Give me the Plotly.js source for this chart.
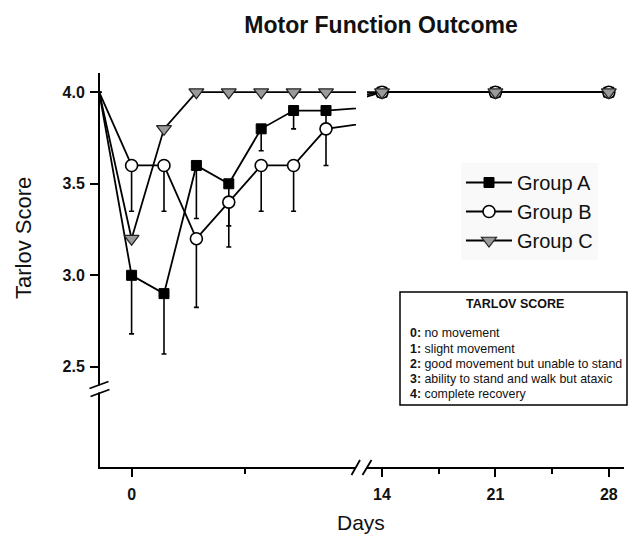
<!DOCTYPE html>
<html>
<head>
<meta charset="utf-8">
<script src="https://cdn.plot.ly/plotly-3.0.1.min.js"></script>
<style>html,body{margin:0;padding:0;background:#fff;}#chart{width:628px;height:536px;}</style>
</head>
<body>
<div id="chart"></div>
<script>
// ---- data ----
const days = [-1, 0, 1, 2, 3, 4, 5, 6, 14, 21, 28];
const groupA = [4.0, 3.0, 2.9, 3.6, 3.5, 3.8, 3.9, 3.9, 4.0, 4.0, 4.0];
const groupB = [4.0, 3.6, 3.6, 3.2, 3.4, 3.6, 3.6, 3.8, 4.0, 4.0, 4.0];
const groupC = [4.0, 3.2, 3.8, 4.0, 4.0, 4.0, 4.0, 4.0, 4.0, 4.0, 4.0];
const errA = [0, 0.32, 0.33, 0.29, 0.23, 0.12, 0.1, 0.1, 0, 0, 0];
const errB = [0, 0.25, 0.25, 0.375, 0.245, 0.25, 0.25, 0.2, 0, 0, 0];
const errC = [0, 0, 0, 0, 0, 0, 0, 0, 0, 0, 0];
const groupNames = ['Group A', 'Group B', 'Group C'];
const yTickVals = [2.5, 3.0, 3.5, 4.0];
const yTickText = ['2.5', '3.0', '3.5', '4.0'];
const xTickVals1 = [0];
const xTickText1 = ['0'];
const xTickVals2 = [14, 21, 28];
const xTickText2 = ['14', '21', '28'];
const tarlovLines = [
  ['0:', 'no movement'],
  ['1:', 'slight movement'],
  ['2:', 'good movement but unable to stand'],
  ['3:', 'ability to stand and walk but ataxic'],
  ['4:', 'complete recovery']
];

// ---- styling ----
const FONT = 'Liberation Sans, Arial, sans-serif';
const INK = '#111111';
const markers = [
  {symbol: 'square', size: 10, color: '#000000', line: {color: '#000000', width: 1}},
  {symbol: 'circle', size: 12, color: '#ffffff', line: {color: '#000000', width: 1.6}},
  {symbol: 'triangle-down', size: 13, color: '#9a9a9a', line: {color: '#222222', width: 1.2}}
];
const series = [groupA, groupB, groupC];
const errs = [errA, errB, errC];
const LEFT_MAX = 7;

// pixel helpers for layout decorations
const L = 100, R = 624, T = 73, B = 467;
const px = x => (x - L) / (R - L);
const py = y => (B - y) / (B - T);

const traces = [];
series.forEach((vals, i) => {
  const zeros = vals.map(() => 0);
  traces.push({
    x: days, y: vals, xaxis: 'x', yaxis: 'y', type: 'scatter', mode: 'lines',
    line: {color: '#000', width: 1.8}, showlegend: false, hoverinfo: 'skip'
  });
  const idx = days.map((d, k) => k).filter(k => days[k] < LEFT_MAX);
  traces.push({
    x: idx.map(k => days[k]), y: idx.map(k => vals[k]), xaxis: 'x', yaxis: 'y',
    type: 'scatter', mode: 'markers', marker: markers[i], cliponaxis: false,
    error_y: {type: 'data', symmetric: false, array: idx.map(() => 0),
      arrayminus: idx.map(k => errs[i][k]), color: '#000', thickness: 1.6, width: 2.5},
    showlegend: false
  });
  traces.push({
    x: days, y: vals, xaxis: 'x2', yaxis: 'y', type: 'scatter', mode: 'lines+markers',
    name: groupNames[i], line: {color: '#000', width: 1.8}, marker: markers[i],
    error_y: {type: 'data', symmetric: false, array: zeros, arrayminus: errs[i],
      color: '#000', thickness: 1.6, width: 2.5},
    showlegend: true
  });
});

const tickFont = {family: FONT, size: 16, color: INK, weight: 'bold'};

const annotations = [
  {text: 'Days', xref: 'paper', yref: 'paper', x: px(361), y: py(522), xanchor: 'center', yanchor: 'middle',
   showarrow: false, font: {family: FONT, size: 21, color: INK}},
  {text: 'Tarlov Score', xref: 'paper', yref: 'paper', x: px(23), y: py(238), xanchor: 'center', yanchor: 'middle',
   textangle: -90, showarrow: false, font: {family: FONT, size: 22, color: INK}},
  {text: '<b>TARLOV SCORE</b>', xref: 'paper', yref: 'paper', x: px(515), y: py(304), xanchor: 'center', yanchor: 'middle',
   showarrow: false, font: {family: FONT, size: 12.5, color: INK}}
];
const lineYs = [333, 349, 364, 379, 394];
tarlovLines.forEach((ln, k) => {
  annotations.push({text: '<b>' + ln[0] + '</b> ' + ln[1], xref: 'paper', yref: 'paper',
    x: px(408), y: py(lineYs[k]), xanchor: 'left', yanchor: 'middle', showarrow: false,
    font: {family: FONT, size: 12.4, color: INK}});
});

const shapes = [
  {type: 'rect', xref: 'paper', yref: 'paper', x0: px(400), x1: px(627), y0: py(405), y1: py(292),
   line: {color: '#000', width: 1.5}, fillcolor: 'rgba(0,0,0,0)'},
  {type: 'line', xref: 'paper', yref: 'paper', x0: px(351.5), y0: py(475), x1: px(360), y1: py(460), line: {color: '#000', width: 1.8}},
  {type: 'line', xref: 'paper', yref: 'paper', x0: px(362.5), y0: py(475), x1: px(371.5), y1: py(460), line: {color: '#000', width: 1.8}},
  {type: 'line', xref: 'paper', yref: 'paper', x0: px(100), y0: py(385.5), x1: px(100), y1: py(392.5), line: {color: '#fff', width: 4}},
  {type: 'line', xref: 'paper', yref: 'paper', x0: px(89.5), y0: py(388.5), x1: px(108.5), y1: py(381.5), line: {color: '#000', width: 1.8}},
  {type: 'line', xref: 'paper', yref: 'paper', x0: px(90.5), y0: py(396.5), x1: px(109.5), y1: py(389.5), line: {color: '#000', width: 1.8}}
];

const layout = {
  width: 628, height: 536,
  margin: {l: L, r: 628 - R, t: T, b: 536 - B, pad: 0},
  paper_bgcolor: '#ffffff', plot_bgcolor: '#ffffff',
  font: {family: FONT, color: INK},
  title: {text: '<b>Motor Function Outcome</b>', x: 381 / 628, xref: 'container', xanchor: 'center',
    y: 1 - 25 / 536, yref: 'container', yanchor: 'middle', font: {family: FONT, size: 23, color: INK}},
  showlegend: true,
  legend: {x: px(461), y: py(163), xanchor: 'left', yanchor: 'top', bgcolor: '#f9f9f9', borderwidth: 0,
    font: {family: FONT, size: 20, color: INK}, itemwidth: 46, tracegroupgap: 0},
  xaxis: {domain: [0, px(356)], range: [-0.975, 6.926], showgrid: false, zeroline: false,
    showline: true, linecolor: '#000', linewidth: 2, ticks: 'outside', ticklen: 8, tickwidth: 2, tickcolor: '#000',
    tickmode: 'array', tickvals: xTickVals1, ticktext: xTickText1, tickfont: tickFont, ticklabelstandoff: 4,
    minor: {tickmode: 'array', tickvals: [3.5], ticks: 'outside', ticklen: 5, tickwidth: 2, tickcolor: '#000', showgrid: false},
    anchor: 'y', fixedrange: true},
  xaxis2: {domain: [px(367), 1], range: [13.074, 28.938], showgrid: false, zeroline: false,
    showline: true, linecolor: '#000', linewidth: 2, ticks: 'outside', ticklen: 8, tickwidth: 2, tickcolor: '#000',
    tickmode: 'array', tickvals: xTickVals2, ticktext: xTickText2, tickfont: tickFont, ticklabelstandoff: 4,
    minor: {tickmode: 'array', tickvals: [17.5, 24.5], ticks: 'outside', ticklen: 5, tickwidth: 2, tickcolor: '#000', showgrid: false},
    anchor: 'y', fixedrange: true},
  yaxis: {domain: [0, 1], range: [1.953, 4.105], showgrid: false, zeroline: false,
    showline: true, linecolor: '#000', linewidth: 2, ticks: 'outside', ticklen: 8, tickwidth: 2, tickcolor: '#000',
    tickmode: 'array', tickvals: yTickVals, ticktext: yTickText, tickfont: tickFont, ticklabelstandoff: 2,
    anchor: 'x', fixedrange: true},
  annotations: annotations,
  shapes: shapes
};

Plotly.newPlot('chart', traces, layout, {displayModeBar: false, staticPlot: true});
</script>
</body>
</html>
